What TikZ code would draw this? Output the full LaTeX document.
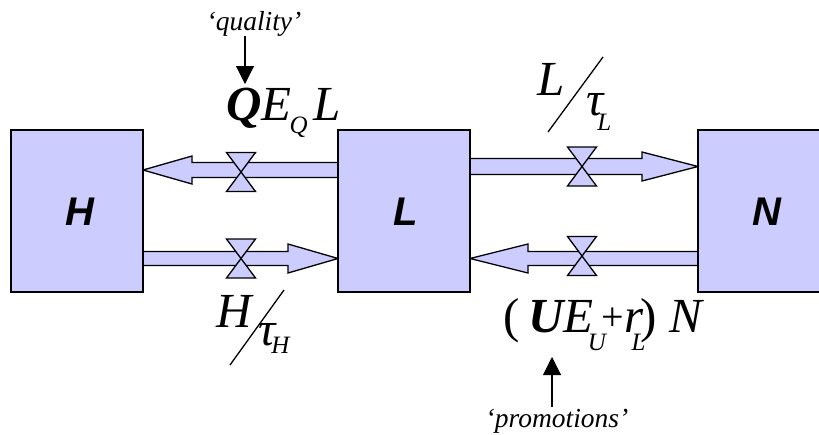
\documentclass[tikz,border=0pt]{standalone}
\usepackage{fontspec}
\setmainfont{Liberation Serif}
\newfontfamily\boxfont{Liberation Sans}
\usetikzlibrary{arrows.meta}
\definecolor{boxfill}{HTML}{CCCCFF}
\newcommand\myBig{\fontsize{49}{52}\selectfont}
\newcommand\myTau{\fontsize{48}{52}\selectfont}
\newcommand\mySub{\fontsize{25}{28}\selectfont}
\newcommand\myPlus{\fontsize{40}{44}\selectfont}
\newcommand\myLab{\fontsize{27.5}{30}\selectfont}
\tikzset{
  block/.style={draw=black, line width=1.5pt, fill=boxfill, inner sep=0pt},
  flow/.style={draw=black, line width=1.3pt, fill=boxfill, line join=miter},
  valve/.style={draw=black, line width=1.3pt, fill=boxfill},
  txt/.style={inner sep=0pt, anchor=base west, font=\itshape},
  boxlab/.style={font=\boxfont\bfseries\itshape\fontsize{40}{44}\selectfont},
  pointer/.style={draw=black, line width=1.1pt, -{Triangle[length=18pt,width=18pt]}},
  slash/.style={draw=black, line width=1.3pt},
}
\begin{document}
\begin{tikzpicture}[x=1pt,y=-1pt]
\useasboundingbox (0,0) rectangle (819,434);
\clip (0,0) rectangle (819,434);
% block arrows
\draw[flow] (338,162.5) -- (192,162.5) -- (192,156) -- (143,170) -- (192,184) -- (192,177.5) -- (338,177.5) -- cycle;
\draw[flow] (470,158.5) -- (642,158.5) -- (642,152) -- (698,166.5) -- (642,181) -- (642,174.5) -- (470,174.5) -- cycle;
\draw[flow] (143,251.5) -- (288,251.5) -- (288,244) -- (338,258.5) -- (288,273) -- (288,265.5) -- (143,265.5) -- cycle;
\draw[flow] (698,251.5) -- (528,251.5) -- (528,244) -- (470,258.5) -- (528,273) -- (528,265.5) -- (698,265.5) -- cycle;
% valves
\foreach \vx/\vy in {241/172, 582/166.5, 241/258.5, 582/256}
  \draw[valve] (\vx-14.5,\vy-19.5) -- (\vx+14.5,\vy-19.5) -- (\vx-14.5,\vy+19.5) -- (\vx+14.5,\vy+19.5) -- cycle;
% boxes
\node[block, minimum width=132pt, minimum height=162pt] (H) at (77,211) {};
\node[block, minimum width=132pt, minimum height=162pt] (L) at (404,211) {};
\node[block, minimum width=132pt, minimum height=162pt] (N) at (764,211) {};
\node[boxlab] (Hl) at (80,212) {H};
\node[boxlab] (Ll) at (406,212) {L};
\node[boxlab] (Nl) at (767,212) {N};
% quality
\node[txt, anchor=base] (qual) at (254,30) {\myLab ‘quality’};
\node[txt] (qel) at (226,120) {\myBig{\bfseries Q}E\kern-2pt\raisebox{-13pt}{\mySub Q}\kern6pt L};
\coordinate (qa) at (245,36);
\coordinate (qb) at (245,84);
\draw[pointer] (qa) -- (qb);
% L / tau_L
\node[txt] (lnum) at (537,95) {\myBig L};
\coordinate (ls1) at (548,132);
\coordinate (ls2) at (603,57);
\draw[slash] (ls1) -- (ls2);
\node[txt] (lden) at (586,115) {\myTau τ\kern-6pt\raisebox{-15pt}{\mySub L}};
% H / tau_H
\node[txt] (hnum) at (216,327) {\myBig H};
\coordinate (hs1) at (230,365);
\coordinate (hs2) at (284,290);
\draw[slash] (hs1) -- (hs2);
\node[txt] (hden) at (258,345) {\myTau τ\kern-4pt\raisebox{-8pt}{\mySub H}};
% (U E_U + r_L) N
\node[txt] (uen) at (503,332) {\myBig\upshape(\kern9pt{\itshape\bfseries U}{\itshape E}\kern-6pt\raisebox{-18pt}{\mySub\itshape U}\kern-4pt\raisebox{2pt}{\myPlus +}{\itshape r}\kern-12pt\raisebox{-18pt}{\mySub\itshape L}\kern-5pt)\kern13pt{\itshape N}};
\node[txt, anchor=base] (promo) at (557,427) {\myLab ‘promotions’};
\coordinate (pa) at (552,407);
\coordinate (pb) at (552,357);
\draw[pointer] (pa) -- (pb);
\end{tikzpicture}
\end{document}
